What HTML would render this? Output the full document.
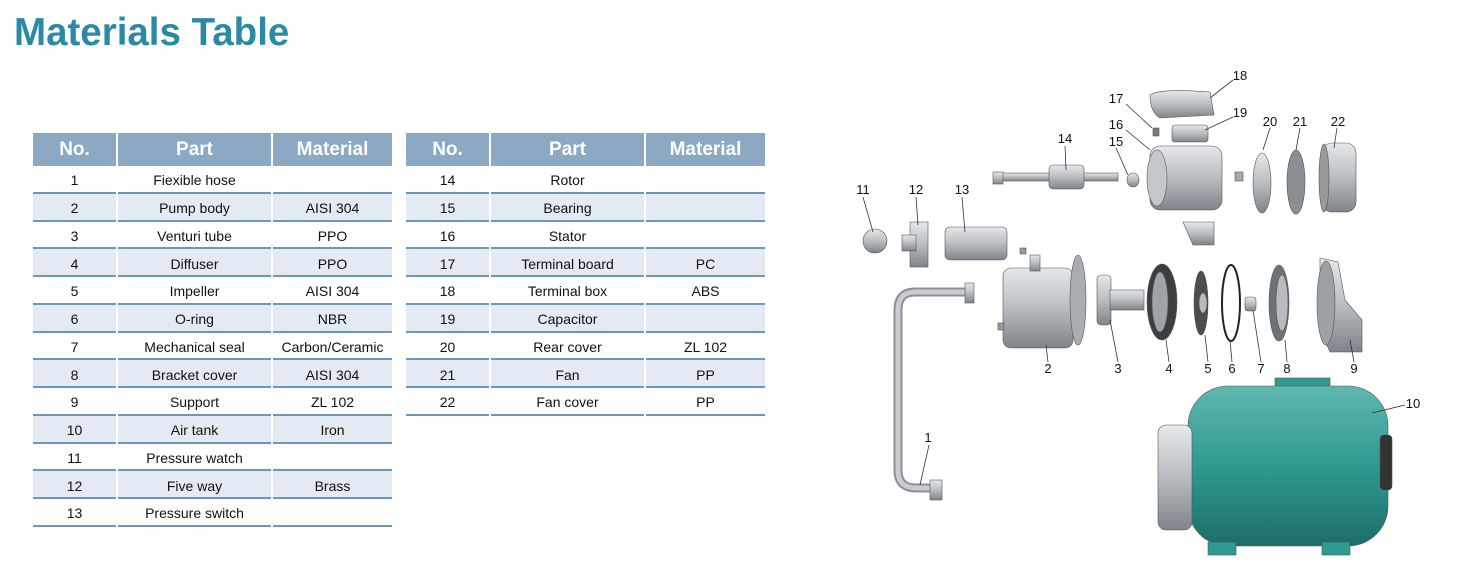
<!DOCTYPE html>
<html><head><meta charset="utf-8"><style>
body{margin:0;width:1463px;height:565px;background:#fff;position:relative;overflow:hidden;font-family:"Liberation Sans",Arial,sans-serif}
h1{position:absolute;left:14px;top:11px;margin:0;font-size:38.5px;font-weight:bold;color:#2a8aa6}
table{position:absolute;top:133px;border-collapse:separate;border-spacing:2px 0;font-size:14px;color:#111}
th{background:#8ba9c3;color:#fff;font-size:19px;font-weight:bold;height:32px;padding:0;padding-top:1px;text-align:center}
td{height:22.75px;padding:3px 0 0 0;text-align:center;border-bottom:2px solid #6b97b8}
tr.a td{background:#e3eaf3}
.c1{width:83px}.c2{width:153px}.c3{width:119px}
</style></head><body>
<h1>Materials Table</h1>
<table style="left:31px">
<tr><th class="c1">No.</th><th class="c2">Part</th><th class="c3">Material</th></tr>
<tr><td>1</td><td>Fiexible hose</td><td></td></tr>
<tr class="a"><td>2</td><td>Pump body</td><td>AISI 304</td></tr>
<tr><td>3</td><td>Venturi tube</td><td>PPO</td></tr>
<tr class="a"><td>4</td><td>Diffuser</td><td>PPO</td></tr>
<tr><td>5</td><td>Impeller</td><td>AISI 304</td></tr>
<tr class="a"><td>6</td><td>O-ring</td><td>NBR</td></tr>
<tr><td>7</td><td>Mechanical seal</td><td>Carbon/Ceramic</td></tr>
<tr class="a"><td>8</td><td>Bracket cover</td><td>AISI 304</td></tr>
<tr><td>9</td><td>Support</td><td>ZL 102</td></tr>
<tr class="a"><td>10</td><td>Air tank</td><td>Iron</td></tr>
<tr><td>11</td><td>Pressure watch</td><td></td></tr>
<tr class="a"><td>12</td><td>Five way</td><td>Brass</td></tr>
<tr><td>13</td><td>Pressure switch</td><td></td></tr>
</table>
<table style="left:404px">
<tr><th class="c1">No.</th><th class="c2">Part</th><th class="c3">Material</th></tr>
<tr><td>14</td><td>Rotor</td><td></td></tr>
<tr class="a"><td>15</td><td>Bearing</td><td></td></tr>
<tr><td>16</td><td>Stator</td><td></td></tr>
<tr class="a"><td>17</td><td>Terminal board</td><td>PC</td></tr>
<tr><td>18</td><td>Terminal box</td><td>ABS</td></tr>
<tr class="a"><td>19</td><td>Capacitor</td><td></td></tr>
<tr><td>20</td><td>Rear cover</td><td>ZL 102</td></tr>
<tr class="a"><td>21</td><td>Fan</td><td>PP</td></tr>
<tr><td>22</td><td>Fan cover</td><td>PP</td></tr>
</table>
<svg style="position:absolute;left:0;top:0" width="1463" height="565">
<defs>
<linearGradient id="g" x1="0" y1="0" x2="0" y2="1"><stop offset="0" stop-color="#e6e8ea"/><stop offset="0.5" stop-color="#b9bdc1"/><stop offset="1" stop-color="#7e8489"/></linearGradient>
<linearGradient id="t" x1="0" y1="0" x2="0" y2="1"><stop offset="0" stop-color="#5fb8ae"/><stop offset="0.5" stop-color="#2f9a90"/><stop offset="1" stop-color="#1d6e67"/></linearGradient>
</defs>
<g stroke="#555" stroke-width="0.6">
<path d="M968,292 L915,292 Q898,292 898,310 L898,470 Q898,488 916,488 L932,488" fill="none" stroke="#8c9095" stroke-width="9"/>
<path d="M968,292 L915,292 Q898,292 898,310 L898,470 Q898,488 916,488 L932,488" fill="none" stroke="#c9ccd0" stroke-width="5"/>
<rect x="965" y="283" width="9" height="20" fill="url(#g)"/>
<rect x="930" y="480" width="12" height="20" fill="url(#g)"/>
<ellipse cx="875" cy="241" rx="12" ry="12" fill="url(#g)"/>
<rect x="910" y="222" width="18" height="45" fill="url(#g)"/>
<rect x="902" y="235" width="14" height="16" fill="url(#g)"/>
<rect x="945" y="227" width="62" height="33" rx="5" fill="url(#g)"/>
<rect x="1020" y="248" width="6" height="6" fill="#999"/>
<rect x="1003" y="268" width="70" height="80" rx="8" fill="url(#g)"/>
<rect x="1030" y="255" width="10" height="16" fill="url(#g)"/>
<ellipse cx="1078" cy="300" rx="8" ry="45" fill="#a9adb2"/>
<rect x="998" y="323" width="6" height="7" fill="#999"/>
<rect x="1097" y="275" width="14" height="50" rx="4" fill="url(#g)"/>
<rect x="1110" y="290" width="34" height="20" fill="url(#g)"/>
<ellipse cx="1162" cy="302" rx="15" ry="38" fill="#3b3f42"/>
<ellipse cx="1160" cy="302" rx="8" ry="30" fill="#9ea3a8"/>
<ellipse cx="1201" cy="303" rx="7" ry="32" fill="#4a4e52"/>
<ellipse cx="1203" cy="303" rx="4" ry="10" fill="#bbb"/>
<ellipse cx="1231" cy="303" rx="9" ry="38" fill="none" stroke="#222" stroke-width="2"/>
<rect x="1245" y="297" width="11" height="14" rx="3" fill="url(#g)"/>
<ellipse cx="1279" cy="303" rx="10" ry="38" fill="#6d7276"/>
<ellipse cx="1282" cy="303" rx="6" ry="28" fill="#b8bcc0"/>
<path d="M1320,258 L1338,262 L1345,300 L1362,320 L1362,352 L1330,352 L1320,330 Z" fill="url(#g)"/>
<ellipse cx="1326" cy="303" rx="9" ry="42" fill="#9ca1a5"/>
<rect x="995" y="173" width="123" height="8" fill="url(#g)"/>
<rect x="1049" y="165" width="35" height="24" rx="4" fill="url(#g)"/>
<rect x="993" y="172" width="10" height="12" fill="url(#g)"/>
<ellipse cx="1133" cy="180" rx="6" ry="7" fill="url(#g)"/>
<rect x="1150" y="146" width="72" height="64" rx="10" fill="url(#g)"/>
<ellipse cx="1157" cy="178" rx="10" ry="28" fill="#c5c8cb"/>
<path d="M1150,95 Q1160,88 1210,92 L1214,115 L1160,118 Q1150,112 1150,95Z" fill="url(#g)"/>
<rect x="1172" y="125" width="36" height="17" rx="3" fill="url(#g)"/>
<rect x="1153" y="128" width="6" height="8" fill="#777"/>
<rect x="1235" y="172" width="8" height="9" fill="#aaa"/>
<path d="M1183,222 L1214,222 L1214,245 L1193,245 Z" fill="url(#g)"/>
<ellipse cx="1262" cy="183" rx="9" ry="30" fill="url(#g)"/>
<ellipse cx="1296" cy="182" rx="9" ry="32" fill="#8a8f93"/>
<rect x="1322" y="143" width="34" height="69" rx="10" fill="url(#g)"/>
<ellipse cx="1324" cy="178" rx="5" ry="34" fill="#999"/>
<rect x="1275" y="378" width="55" height="16" fill="#2f9a90"/>
<rect x="1188" y="386" width="200" height="160" rx="40" fill="url(#t)"/>
<rect x="1158" y="425" width="34" height="105" rx="8" fill="url(#g)"/>
<rect x="1380" y="435" width="12" height="55" rx="4" fill="#333"/>
<rect x="1208" y="542" width="28" height="13" fill="#2f9a90"/>
<rect x="1322" y="542" width="28" height="13" fill="#2f9a90"/>
</g>
<g stroke="#333" stroke-width="0.8">
<line x1="1233" y1="80" x2="1210" y2="98"/><line x1="1126" y1="104" x2="1152" y2="128"/>
<line x1="1233" y1="117" x2="1205" y2="130"/><line x1="1126" y1="130" x2="1150" y2="150"/>
<line x1="1270" y1="128" x2="1263" y2="150"/><line x1="1300" y1="128" x2="1296" y2="150"/>
<line x1="1337" y1="128" x2="1334" y2="148"/><line x1="1065" y1="146" x2="1066" y2="170"/>
<line x1="1116" y1="148" x2="1128" y2="175"/><line x1="863" y1="197" x2="873" y2="232"/>
<line x1="916" y1="197" x2="918" y2="225"/><line x1="962" y1="197" x2="965" y2="232"/>
<line x1="1048" y1="362" x2="1046" y2="345"/><line x1="1118" y1="362" x2="1110" y2="320"/>
<line x1="1169" y1="362" x2="1166" y2="340"/><line x1="1208" y1="362" x2="1205" y2="335"/>
<line x1="1232" y1="362" x2="1230" y2="340"/><line x1="1261" y1="362" x2="1253" y2="310"/>
<line x1="1287" y1="362" x2="1285" y2="340"/><line x1="1354" y1="362" x2="1350" y2="340"/>
<line x1="1405" y1="405" x2="1372" y2="413"/><line x1="929" y1="445" x2="920" y2="485"/>
</g>
<g font-family="Liberation Sans,Arial,sans-serif" font-size="13" fill="#111" text-anchor="middle">
<text x="1240" y="80">18</text><text x="1116" y="103">17</text><text x="1240" y="117">19</text>
<text x="1116" y="129">16</text><text x="1270" y="126">20</text><text x="1300" y="126">21</text>
<text x="1338" y="126">22</text><text x="1065" y="143">14</text><text x="1116" y="146">15</text>
<text x="863" y="194">11</text><text x="916" y="194">12</text><text x="962" y="194">13</text>
<text x="1048" y="373">2</text><text x="1118" y="373">3</text><text x="1169" y="373">4</text>
<text x="1208" y="373">5</text><text x="1232" y="373">6</text><text x="1261" y="373">7</text>
<text x="1287" y="373">8</text><text x="1354" y="373">9</text><text x="1413" y="408">10</text>
<text x="928" y="442">1</text>
</g>
</svg>
</body></html>
